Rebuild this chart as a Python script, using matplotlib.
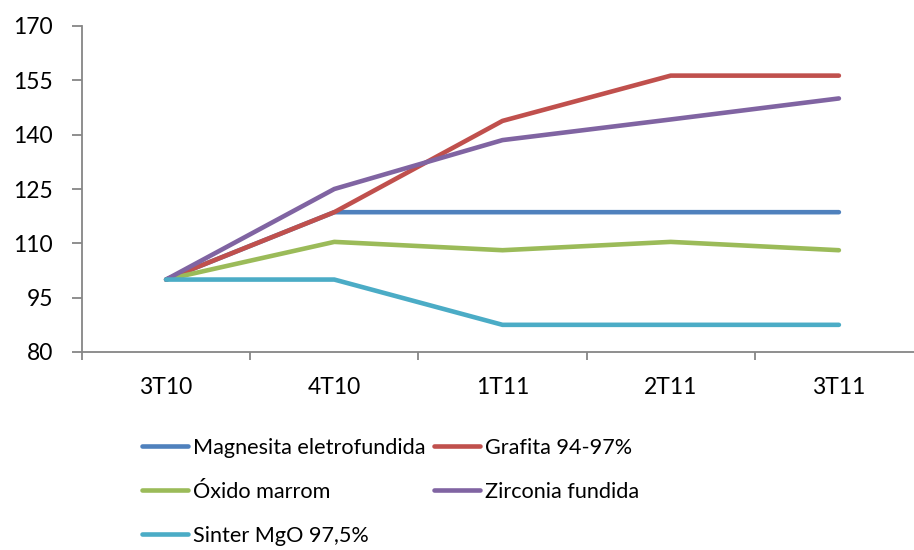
import matplotlib
matplotlib.use("Agg")
import matplotlib.pyplot as plt

plt.rcParams['font.family'] = ['Lato', 'DejaVu Sans']

categories = ["3T10", "4T10", "1T11", "2T11", "3T11"]
magnesita = [100, 118.6, 118.6, 118.6, 118.6]
grafita = [100, 118.6, 143.8, 156.3, 156.3]
oxido = [100, 110.4, 108.1, 110.4, 108.1]
zirconia = [100, 125.0, 138.5, 144.2, 150.0]
sinter = [100, 100, 87.5, 87.5, 87.5]

series = [
    ("Magnesita eletrofundida", magnesita, "#4F81BD"),
    ("Grafita 94-97%", grafita, "#C0504D"),
    ("Óxido marrom", oxido, "#9BBB59"),
    ("Zirconia fundida", zirconia, "#8064A2"),
    ("Sinter MgO 97,5%", sinter, "#4BACC6"),
]
yticks = [80, 95, 110, 125, 140, 155, 170]

fig = plt.figure(figsize=(9.14, 5.5), dpi=100)
ax = fig.add_axes([82/914, (550-352)/550, (923-82)/914, (352-26)/550])

x = list(range(len(categories)))
handles = []
for name, vals, col in series:
    h, = ax.plot(x, vals, color=col, lw=3.3, solid_capstyle='round', solid_joinstyle='round', label=name)
    handles.append(h)

ax.set_xlim(-0.5, len(categories) - 0.5)
ax.set_ylim(80, 170)
ax.set_yticks(yticks)
ax.set_xticks([i - 0.5 for i in range(len(categories) + 1)])
ax.set_xticklabels([])
ax.set_xticks(x, minor=True)
ax.set_xticklabels(categories, minor=True)
ax.tick_params(axis='x', which='minor', length=0, pad=18, labelsize=16.5)
ax.tick_params(axis='x', which='major', length=6, color='#868686', width=1.3)
ax.tick_params(axis='y', length=7, color='#868686', width=1.3, pad=14, labelsize=16.5)
for s in ['top', 'right']:
    ax.spines[s].set_visible(False)
for s in ['left', 'bottom']:
    ax.spines[s].set_color('#868686')
    ax.spines[s].set_linewidth(1.3)

order = [0, 2, 4, 1, 3]
fig.legend([handles[i] for i in order], [series[i][0] for i in order],
           ncol=2, frameon=False, loc='upper left', bbox_to_anchor=(142/914, 1 - 438/550),
           fontsize=15.6, handlelength=2.1, handletextpad=0.25, columnspacing=0.4,
           labelspacing=1.1, borderaxespad=0, borderpad=0)

fig.savefig("out.png", dpi=100)
